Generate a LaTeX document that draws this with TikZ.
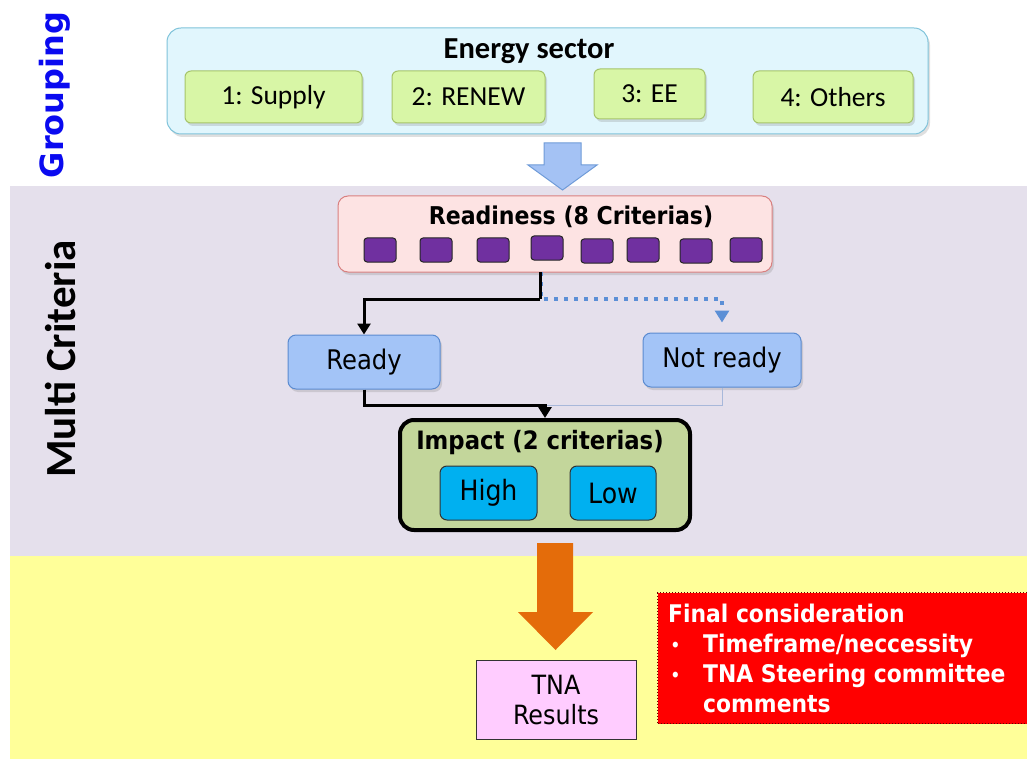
\documentclass[tikz,border=0pt]{standalone}
\usepackage{fontspec}
\setmainfont{DejaVu Sans}
\newfontfamily\tahfont{DejaVu Sans Condensed}
\newfontfamily\calfont{Carlito}
\usetikzlibrary{arrows.meta,shadows}
\definecolor{lav}{HTML}{E5E0EC}
\definecolor{yel}{HTML}{FFFF99}
\definecolor{cyfill}{HTML}{E1F6FD}
\definecolor{cyline}{HTML}{7FC3DA}
\definecolor{grfill}{HTML}{D8F6A6}
\definecolor{grline}{HTML}{A6C46A}
\definecolor{bafill}{HTML}{A4C2F4}
\definecolor{baline}{HTML}{6F9BD8}
\definecolor{pkfill}{HTML}{FDE3E3}
\definecolor{pkline}{HTML}{D98080}
\definecolor{purp}{HTML}{7030A0}
\definecolor{rdfill}{HTML}{A3C4F7}
\definecolor{rdline}{HTML}{5B8BD0}
\definecolor{impfill}{HTML}{C3D69B}
\definecolor{hlfill}{HTML}{00B0F0}
\definecolor{orng}{HTML}{E46C0A}
\definecolor{tnafill}{HTML}{FFCCFF}
\definecolor{dotb}{HTML}{5B8FD6}
\definecolor{thinb}{HTML}{A8B8DA}
\definecolor{grpblue}{HTML}{0A0AF0}
\tikzset{
  shad/.style={drop shadow={opacity=0.25,shadow xshift=2pt,shadow yshift=-3pt}},
  sector/.style={draw=grline,fill=grfill,rounded corners=6pt,line width=1pt,inner sep=0pt,shad,
    font=\calfont\fontsize{27.5}{29}\selectfont},
  crit/.style={draw=black!85,fill=purp,rounded corners=3pt,line width=1pt,minimum width=32pt,minimum height=24pt,inner sep=0pt},
  statebox/.style={draw=rdline,fill=rdfill,rounded corners=8pt,line width=1pt,inner sep=0pt,shad,
    font=\tahfont\fontsize{27}{29}\selectfont},
  hlbox/.style={draw=black!80,fill=hlfill,rounded corners=7pt,line width=1pt,inner sep=0pt,
    font=\tahfont\fontsize{28}{30}\selectfont},
  blk/.style={draw=black,line width=3pt,-{Triangle[length=11pt,width=13pt]}},
  dotline/.style={draw=dotb,line width=4pt,dash pattern=on 4pt off 6pt,-{Triangle[length=12pt,width=14pt]}},
}
\begin{document}
\begin{tikzpicture}[x=1pt,y=-1pt]
\useasboundingbox (0,0) rectangle (1027,759);
\fill[white] (0,0) rectangle (1027,759);
\fill[lav] (10,186) rectangle (1027,556);
\fill[yel] (10,556) rectangle (1027,759);

% side labels
\node[rotate=90,text=grpblue,font=\bfseries\fontsize{32}{34}\selectfont] (grouping) at (55,95) {Grouping};
\node[rotate=90,font=\calfont\bfseries\fontsize{43}{45}\selectfont] (multi) at (61,359) {Multi Criteria};

% energy sector
\node[draw=cyline,fill=cyfill,rounded corners=14pt,line width=1pt,minimum width=761pt,minimum height=106pt,shad] (energy) at (547.5,81) {};
\node[font=\calfont\bfseries\fontsize{30.5}{32}\selectfont] (etitle) at (529,51) {Energy sector};
\node[sector,minimum width=177pt,minimum height=52pt] (supply) at (273.5,97) {1: Supply};
\node[sector,minimum width=153pt,minimum height=52pt] (renew) at (468.5,97) {2: RENEW};
\node[sector,minimum width=111pt,minimum height=50pt] (ee) at (649.5,94) {3: EE};
\node[sector,minimum width=160pt,minimum height=52pt] (others) at (833,97) {4: Others};

% blue block arrow
\draw[baline,fill=bafill,line width=1pt] (544,143) -- (581,143) -- (581,165) -- (597,165) -- (562.5,190) -- (528,165) -- (544,165) -- cycle;

% readiness
\node[draw=pkline,fill=pkfill,rounded corners=10pt,line width=1pt,minimum width=434pt,minimum height=76pt,shad] (readiness) at (555,234) {};
\node[font=\tahfont\bfseries\fontsize{24.5}{26}\selectfont] (rtitle) at (571,217) {Readiness (8 Criterias)};
\foreach \i/\x/\y in {1/380/250,2/436/250,3/493/250,4/547/248,5/597/251,6/643/250,7/696/251,8/746/250}
  \node[crit] (c\i) at (\x,\y) {};

% ready / not ready
\node[statebox,minimum width=152pt,minimum height=54pt] (ready) at (364,362) {Ready};
\node[statebox,minimum width=158pt,minimum height=54pt] (notready) at (722,360) {Not ready};

\coordinate (rs) at (540,272);
\coordinate (rsb) at (541,272);
\coordinate (jd) at (541,299);
\coordinate (jb) at (540,299);
\coordinate (m) at (545,405);
\draw[dotline,shorten >=10pt] (rsb) -- (jd) -| (notready.north);
\draw[draw=black,line width=3pt] (rs) -- (jb);
\draw[blk] (jb) -| (ready.north);

% impact
\node[draw=black,fill=impfill,rounded corners=14pt,line width=4pt,minimum width=290pt,minimum height=110pt] (impact) at (545,475) {};
\node[font=\tahfont\bfseries\fontsize{25.3}{27}\selectfont] (ititle) at (540,443) {Impact (2 criterias)};
\node[hlbox,minimum width=97pt,minimum height=54pt] (high) at (488.5,493) {High};
\node[hlbox,minimum width=86pt,minimum height=54pt] (low) at (613,493) {Low};

\draw[thinb,line width=1pt] (notready.south) |- (m);
\draw[blk] (ready.south) |- (m) -- (impact.north);

% orange arrow
\fill[orng] (537,543) -- (573,543) -- (573,612) -- (593,612) -- (555.5,650) -- (518,612) -- (537,612) -- cycle;

% TNA results
\node[draw=black!80,fill=tnafill,line width=1pt,minimum width=160pt,minimum height=79pt,inner sep=0pt,align=center,
  font=\tahfont\fontsize{26.5}{30}\selectfont] (tna) at (556,700) {TNA\\Results};

% final consideration
\node[draw=black!60!red,dotted,fill=red,line width=1pt,minimum width=380pt,minimum height=131pt,anchor=north west] (final) at (657,592) {};
\node[anchor=north west,inner sep=0pt,text=white,align=left,font=\tahfont\bfseries\fontsize{24.3}{30}\selectfont] (ftext) at (668,604)
  {Final consideration\\
   \makebox[35pt][l]{\hspace{2pt}\normalfont\tahfont\fontsize{20}{30}\selectfont •}Timeframe/neccessity\\
   \makebox[35pt][l]{\hspace{2pt}\normalfont\tahfont\fontsize{20}{30}\selectfont •}TNA Steering committee\\
   \makebox[35pt][l]{}comments};
\end{tikzpicture}
\end{document}
